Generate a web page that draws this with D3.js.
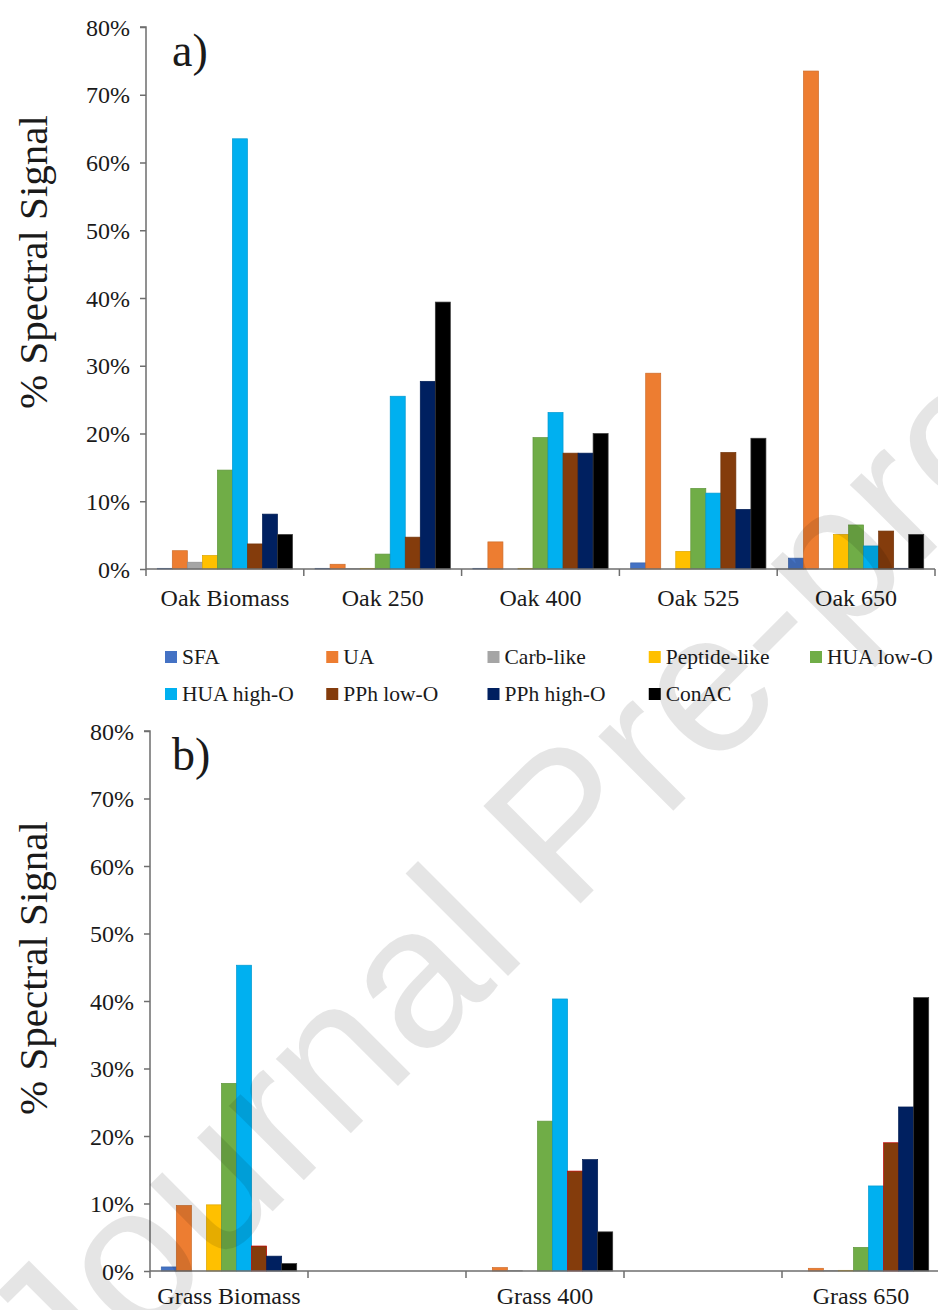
<!DOCTYPE html>
<html>
<head>
<meta charset="utf-8">
<script src="https://cdn.jsdelivr.net/npm/d3@7"></script>
<style>
  html, body { margin: 0; padding: 0; background: #fff; }
  svg { display: block; }
  text { font-family: "Liberation Serif", "Times New Roman", serif; }
</style>
</head>
<body>
<svg id="chart" width="938" height="1310"></svg>
<script>
// Compound classes (series) and their fill colours
const seriesNames = ["SFA", "UA", "Carb-like", "Peptide-like", "HUA low-O",
                     "HUA high-O", "PPh low-O", "PPh high-O", "ConAC"];
const seriesColors = ["#4472C4", "#ED7D31", "#A5A5A5", "#FFC000", "#70AD47",
                      "#00B0F0", "#843C0C", "#002060", "#000000"];

// Panel a) oak samples, % of spectral signal per class
const oakCategories = ["Oak Biomass", "Oak 250", "Oak 400", "Oak 525", "Oak 650"];
const oakSFA        = [0.1, 0.1, 0.1, 0.9, 1.6];
const oakUA         = [2.7, 0.7, 4.0, 28.9, 73.5];
const oakCarb       = [1.0, 0.05, 0, 0, 0];
const oakPeptide    = [2.0, 0.1, 0.1, 2.6, 5.1];
const oakHUALow     = [14.6, 2.2, 19.4, 11.9, 6.5];
const oakHUAHigh    = [63.5, 25.5, 23.1, 11.2, 3.4];
const oakPPhLow     = [3.7, 4.7, 17.1, 17.2, 5.6];
const oakPPhHigh    = [8.1, 27.7, 17.1, 8.8, 0.1];
const oakConAC      = [5.1, 39.4, 20.0, 19.3, 5.1];

// Panel b) grass samples (two unlabelled, empty categories between them)
const grassCategories = ["Grass Biomass", "", "Grass 400", "", "Grass 650"];
const grassSFA      = [0.6, null, 0, null, 0];
const grassUA       = [9.7, null, 0.5, null, 0.4];
const grassCarb     = [0, null, 0.05, null, 0.05];
const grassPeptide  = [9.8, null, 0, null, 0.1];
const grassHUALow   = [27.8, null, 22.2, null, 3.5];
const grassHUAHigh  = [45.3, null, 40.3, null, 12.6];
const grassPPhLow   = [3.7, null, 14.8, null, 19.0];
const grassPPhHigh  = [2.2, null, 16.5, null, 24.3];
const grassConAC    = [1.1, null, 5.8, null, 40.5];

const yTicks = [0, 10, 20, 30, 40, 50, 60, 70, 80];

const oakSeries = [oakSFA, oakUA, oakCarb, oakPeptide, oakHUALow,
                   oakHUAHigh, oakPPhLow, oakPPhHigh, oakConAC];
const grassSeries = [grassSFA, grassUA, grassCarb, grassPeptide, grassHUALow,
                     grassHUAHigh, grassPPhLow, grassPPhHigh, grassConAC];

const svg = d3.select("#chart");
svg.append("rect").attr("width", 938).attr("height", 1310).attr("fill", "#fff");

const AXIS = "#6e6e6e";
const TEXT = "#1a1a1a";

function drawPanel(cfg) {
  const { categories, series, left, right, top, bottom, tag, titleY,
          labelOffset, edge } = cfg;
  const g = svg.append("g");

  const x0 = d3.scaleBand().domain(d3.range(categories.length))
    .range([left, right]).paddingInner(0).paddingOuter(0);
  const bw = x0.bandwidth();
  // clustered columns with a 150% gap between clusters
  const gap = bw * 1.5 / (seriesNames.length + 1.5);
  const x1 = d3.scaleBand().domain(d3.range(seriesNames.length))
    .range([gap / 2, bw - gap / 2]).paddingInner(0).paddingOuter(0);
  const y = d3.scaleLinear().domain([0, 80]).range([bottom, top]);

  // bars
  series.forEach((vals, si) => {
    const col = seriesColors[si];
    const stroke = edge[si] || (si === 8 ? "#3a3a3a" : d3.color(col).darker(0.4));
    g.append("g").selectAll("rect")
      .data(vals.map((v, ci) => ({ v, ci })).filter(d => d.v !== null && d.v > 0))
      .join("rect")
      .attr("x", d => x0(d.ci) + x1(si))
      .attr("width", x1.bandwidth())
      .attr("y", d => y(d.v))
      .attr("height", d => y(0) - y(d.v))
      .attr("fill", col)
      .attr("stroke", stroke)
      .attr("stroke-width", 0.7);
  });

  // y axis
  const yAxis = d3.axisLeft(y).tickValues(yTicks).tickSize(6).tickPadding(10)
    .tickFormat(d => d + "%");
  const ya = g.append("g").attr("transform", `translate(${left},0)`).call(yAxis);
  ya.select(".domain").attr("stroke", AXIS).attr("stroke-width", 1.5)
    .attr("d", `M-6,${top}H0V${bottom}`);
  ya.selectAll(".tick line").attr("stroke", AXIS).attr("stroke-width", 1.5);
  ya.selectAll(".tick text").attr("fill", TEXT)
    .style("font-family", "'Liberation Serif', serif").style("font-size", "24px")
    .attr("dy", "0.34em");

  // x axis: baseline, boundary ticks, centred category labels
  g.append("line").attr("x1", left).attr("x2", right)
    .attr("y1", bottom).attr("y2", bottom)
    .attr("stroke", AXIS).attr("stroke-width", 1.5);
  const bounds = d3.range(categories.length + 1).map(i => left + i * bw);
  g.append("g").selectAll("line").data(bounds).join("line")
    .attr("x1", d => d).attr("x2", d => d)
    .attr("y1", bottom).attr("y2", bottom + 7)
    .attr("stroke", AXIS).attr("stroke-width", 1.5);
  const xAxis = d3.axisBottom(x0).tickSize(0).tickPadding(0)
    .tickFormat(i => categories[i]);
  const xa = g.append("g").attr("transform", `translate(0,${bottom})`).call(xAxis);
  xa.select(".domain").remove();
  xa.selectAll(".tick text").attr("fill", TEXT)
    .attr("y", labelOffset).attr("dy", 0)
    .style("font-family", "'Liberation Serif', serif").style("font-size", "24px");

  // panel tag
  g.append("text").attr("x", 172).attr("y", top + 39)
    .attr("fill", TEXT).style("font-size", "46px").text(tag);

  // y title
  g.append("text")
    .attr("transform", `translate(47,${titleY}) rotate(-90)`)
    .attr("text-anchor", "middle").attr("fill", TEXT)
    .style("font-size", "41px").text("% Spectral Signal");
}

drawPanel({ categories: oakCategories, series: oakSeries,
  left: 146, right: 935, top: 27, bottom: 569, tag: "a)", titleY: 262,
  labelOffset: 37, edge: [] });
drawPanel({ categories: grassCategories, series: grassSeries,
  left: 150, right: 940, top: 731, bottom: 1271, tag: "b)", titleY: 968,
  labelOffset: 33, edge: [null, null, null, null, null, null, "#c00000"] });

// legend (two rows, five columns)
const legendX = d3.scalePoint().domain(d3.range(5)).range([165, 810]);
const legend = svg.append("g").selectAll("g").data(seriesNames).join("g")
  .attr("transform", (d, i) => `translate(${legendX(i % 5)},${i < 5 ? 657 : 694})`);
legend.append("rect").attr("x", 0).attr("y", -6).attr("width", 12).attr("height", 12)
  .attr("fill", (d, i) => seriesColors[i]);
legend.append("text").attr("x", 17).attr("dy", "0.34em").attr("fill", TEXT)
  .style("font-size", "21.5px").text(d => d);

// diagonal proof watermark drawn over the figure
svg.append("text")
  .attr("transform", "translate(66,1418) rotate(-45)")
  .attr("fill", "#000").attr("fill-opacity", 0.1)
  .style("font-family", "'Liberation Sans', Arial, sans-serif")
  .style("font-size", "200px")
  .text("Journal Pre-proof");
</script>
</body>
</html>
